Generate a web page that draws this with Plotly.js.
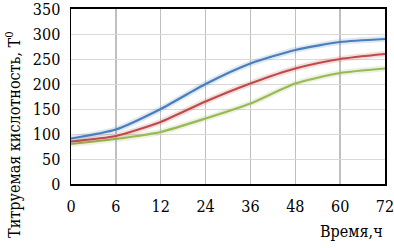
<!DOCTYPE html>
<html><head><meta charset="utf-8">
<script src="https://cdn.plot.ly/plotly-3.0.1.min.js"></script>
<style>body{margin:0;background:#fff}#c{width:394px;height:248px}</style>
</head><body><div id="c"></div>
<script>
const categories = ['0','6','12','24','36','48','60','72'];
const seriesBlue = [91, 109, 150, 200, 241, 268, 284, 290];
const seriesRed = [85, 96, 124, 165, 201, 231, 250, 260];
const seriesGreen = [80, 90, 104, 131, 161, 201, 222, 231];
const yTicks = [0, 50, 100, 150, 200, 250, 300, 350];
const font = 'DejaVu Serif Condensed, DejaVu Serif';

function tr(y, color){
  return [{x: categories, y: y, type:'scatter', mode:'lines', line:{color:color, width:6, shape:'spline', smoothing:0.6}, opacity:0.18, hoverinfo:'skip'},
          {x: categories, y: y, type:'scatter', mode:'lines', line:{color:color, width:2.2, shape:'spline', smoothing:0.6}}];
}
const data = [].concat(tr(seriesGreen,'#98b954'), tr(seriesRed,'#be4b48'), tr(seriesBlue,'#4a7ebb'));
const layout = {
  width:394, height:248, margin:{l:71, r:9, t:9, b:64},
  showlegend:false, paper_bgcolor:'#fff', plot_bgcolor:'#fff',
  font:{family:font, size:16, color:'#000'},
  xaxis:{type:'category', range:[0,7], showgrid:true, gridcolor:'#c0c0c0', gridwidth:1.5,
    showline:true, linecolor:'#000', linewidth:2, mirror:true, ticks:'', tickfont:{family:font,size:16}, ticklabelstandoff:7},
  yaxis:{range:[0,350], tickvals:yTicks, showgrid:true, gridcolor:'#d9d9d9', gridwidth:1,
    showline:true, linecolor:'#000', linewidth:1.5, mirror:true, ticks:'', tickfont:{family:font,size:16}, zeroline:false,
    ticklabeloverflow:'allow', ticklabelstandoff:6},
  annotations:[
    {text:'Титруемая кислотность, Т<sup>0</sup>', xref:'paper', yref:'paper', x:-0.185, y:0.28, textangle:-90, showarrow:false, font:{family:font,size:16}, xanchor:'center', yanchor:'middle'},
    {text:'Время,ч', xref:'paper', yref:'paper', x:1, y:-0.27, showarrow:false, font:{family:font,size:16}, xanchor:'right', yanchor:'middle'}
  ]
};
Plotly.newPlot('c', data, layout, {staticPlot:true});
</script></body></html>
